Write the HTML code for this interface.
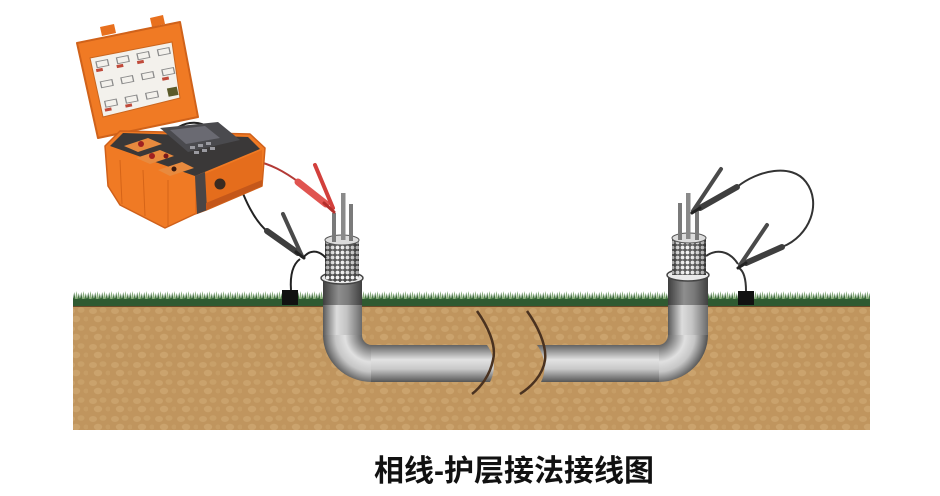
<!DOCTYPE html>
<html><head><meta charset="utf-8">
<style>
html,body{margin:0;padding:0;background:#fff;}
body{width:940px;height:496px;overflow:hidden;}
svg{display:block;}
</style></head>
<body>
<svg width="940" height="496" viewBox="0 0 940 496" xmlns="http://www.w3.org/2000/svg">
<defs>
  <pattern id="soil" width="22" height="18" patternUnits="userSpaceOnUse">
    <rect width="22" height="18" fill="#c0955e"/>
    <ellipse cx="5" cy="5" rx="4" ry="3" fill="#caa26c"/>
    <ellipse cx="15" cy="4" rx="3.5" ry="2.8" fill="#c8a069"/>
    <ellipse cx="10" cy="13" rx="4.2" ry="3.2" fill="#cba36d"/>
    <ellipse cx="20" cy="13" rx="2.5" ry="2.5" fill="#c69d66"/>
  </pattern>
  <pattern id="grass" width="7" height="8" patternUnits="userSpaceOnUse" x="73" y="291">
    <path d="M0,8 L1.2,1 L2.4,8 Z" fill="#3d6b3c"/>
    <path d="M2,8 L3.5,0 L5,8 Z" fill="#86ab79"/>
    <path d="M4.5,8 L5.8,2 L7,8 Z" fill="#4c7a48"/>
  </pattern>
  <pattern id="braid" width="5" height="5" patternUnits="userSpaceOnUse">
    <rect width="5" height="5" fill="#4a4a4a"/>
    <circle cx="2.5" cy="2.5" r="1.9" fill="#f2f2f2"/>
  </pattern>
  <linearGradient id="cylShade" x1="0" x2="1" y1="0" y2="0">
    <stop offset="0" stop-color="#000" stop-opacity="0.35"/>
    <stop offset="0.4" stop-color="#fff" stop-opacity="0.1"/>
    <stop offset="1" stop-color="#000" stop-opacity="0.35"/>
  </linearGradient>
  <linearGradient id="vpipe" x1="0" x2="1" y1="0" y2="0">
    <stop offset="0" stop-color="#5a5a5a"/>
    <stop offset="0.35" stop-color="#dcdcdc"/>
    <stop offset="0.6" stop-color="#c4c4c4"/>
    <stop offset="1" stop-color="#6a6a6a"/>
  </linearGradient>
  <linearGradient id="vpipeTop" x1="0" x2="1" y1="0" y2="0">
    <stop offset="0" stop-color="#3e3e3e"/>
    <stop offset="0.4" stop-color="#8e8e8e"/>
    <stop offset="0.65" stop-color="#7a7a7a"/>
    <stop offset="1" stop-color="#404040"/>
  </linearGradient>
  <linearGradient id="hpipe" x1="0" x2="0" y1="0" y2="1">
    <stop offset="0" stop-color="#626262"/>
    <stop offset="0.4" stop-color="#e2e2e2"/>
    <stop offset="0.65" stop-color="#c8c8c8"/>
    <stop offset="1" stop-color="#565656"/>
  </linearGradient>
  <radialGradient id="cornerL" gradientUnits="userSpaceOnUse" cx="372" cy="335" r="49">
    <stop offset="0.2" stop-color="#626262"/>
    <stop offset="0.55" stop-color="#e0e0e0"/>
    <stop offset="0.75" stop-color="#c6c6c6"/>
    <stop offset="1" stop-color="#585858"/>
  </radialGradient>
  <radialGradient id="cornerR" gradientUnits="userSpaceOnUse" cx="658" cy="335" r="49">
    <stop offset="0.2" stop-color="#626262"/>
    <stop offset="0.55" stop-color="#e0e0e0"/>
    <stop offset="0.75" stop-color="#c6c6c6"/>
    <stop offset="1" stop-color="#585858"/>
  </radialGradient>
</defs>

<!-- ground -->
<rect x="73" y="306" width="797" height="124" fill="url(#soil)"/>
<rect x="73" y="305" width="797" height="2" fill="#6b4a28"/>
<rect x="73" y="298" width="797" height="8" fill="#2f5a31"/>
<rect x="73" y="291" width="797" height="8" fill="url(#grass)"/>

<!-- LEFT PIPE -->
<rect x="323" y="277" width="39" height="60" fill="url(#vpipe)"/>
<rect x="323" y="277" width="39" height="28" fill="url(#vpipeTop)"/>
<path d="M372,335 m-49,0 a49,47 0 0 0 49,47 L372,345 a10,10 0 0 1 -10,-10 Z" fill="url(#cornerL)"/>
<path d="M371,345 L487,345 C495,356 496,370 490,382 L371,382 Z" fill="url(#hpipe)"/>

<!-- RIGHT PIPE -->
<rect x="668" y="275" width="40" height="62" fill="url(#vpipe)"/>
<rect x="668" y="275" width="40" height="30" fill="url(#vpipeTop)"/>
<path d="M658,335 m50,0 a50,47 0 0 1 -50,47 L658,345 a10,10 0 0 0 10,-10 Z" fill="url(#cornerR)"/>
<path d="M659,345 L537,345 C545,356 547,370 541,382 L659,382 Z" fill="url(#hpipe)"/>

<!-- break curves -->
<path d="M477,311 C487,325 497,345 493,360 C490,375 481,387 472,394" fill="none" stroke="#4a3220" stroke-width="2.5"/>
<path d="M527,311 C537,325 547,345 545,360 C543,375 531,387 520,394" fill="none" stroke="#4a3220" stroke-width="2.5"/>

<!-- LEFT cable head -->
<ellipse cx="342" cy="278" rx="21" ry="6" fill="#e8e8e8" stroke="#444" stroke-width="1.5"/>
<rect x="325" y="240" width="34" height="38" fill="url(#braid)"/>
<rect x="325" y="240" width="34" height="38" fill="url(#cylShade)"/>
<ellipse cx="342" cy="278" rx="17" ry="4" fill="url(#braid)"/>
<ellipse cx="342" cy="240" rx="17" ry="5" fill="#dcdcdc" stroke="#555" stroke-width="1"/>
<rect x="332" y="213" width="4" height="29" fill="#7a7a7a"/>
<rect x="341" y="193" width="4.5" height="47" fill="#8a8a8a"/>
<rect x="349" y="204" width="4" height="37" fill="#7a7a7a"/>

<!-- RIGHT cable head -->
<ellipse cx="688" cy="275" rx="21" ry="6" fill="#e8e8e8" stroke="#444" stroke-width="1.5"/>
<rect x="672" y="238" width="34" height="37" fill="url(#braid)"/>
<rect x="672" y="238" width="34" height="37" fill="url(#cylShade)"/>
<ellipse cx="689" cy="238" rx="17" ry="5" fill="#dcdcdc" stroke="#555" stroke-width="1"/>
<rect x="678" y="203" width="4" height="37" fill="#7a7a7a"/>
<rect x="686" y="193" width="4.5" height="46" fill="#8a8a8a"/>
<rect x="695" y="205" width="4" height="35" fill="#7a7a7a"/>

<!-- ground stakes -->
<rect x="282" y="290" width="16" height="15" fill="#111"/>
<rect x="738" y="291" width="16" height="14" fill="#111"/>

<!-- LEFT wires & clamps -->
<path d="M168,138 C180,118 208,116 222,142 C234,164 240,192 252,212 C257,221 262,227 268,232" fill="none" stroke="#222" stroke-width="2"/>
<path d="M250,160 C270,163 285,172 300,183" fill="none" stroke="#b33a36" stroke-width="2"/>
<path d="M326,258 C318,249 309,250 303,258" fill="none" stroke="#222" stroke-width="2"/>
<path d="M300,259 C292,265 290,276 291,290" fill="none" stroke="#222" stroke-width="2"/>
<!-- red clamp -->
<line x1="298" y1="182" x2="326" y2="204" stroke="#e05450" stroke-width="7" stroke-linecap="round"/>
<line x1="315" y1="165" x2="333" y2="208" stroke="#d2403c" stroke-width="4" stroke-linecap="round"/>
<line x1="324" y1="203" x2="334" y2="212" stroke="#b32e2a" stroke-width="3" stroke-linecap="round"/>
<!-- black clamp -->
<line x1="267" y1="231" x2="298" y2="253" stroke="#3e3e3e" stroke-width="6" stroke-linecap="round"/>
<line x1="283" y1="214" x2="302" y2="256" stroke="#4a4a4a" stroke-width="4" stroke-linecap="round"/>
<line x1="296" y1="252" x2="304" y2="258" stroke="#222" stroke-width="3" stroke-linecap="round"/>

<!-- RIGHT wires & clamps -->
<path d="M737,187 C758,170 792,163 806,182 C822,203 810,236 782,247" fill="none" stroke="#333" stroke-width="2"/>
<path d="M706,256 C716,249 729,250 738,264" fill="none" stroke="#333" stroke-width="2"/>
<path d="M739,268 C745,272 746,282 746,291" fill="none" stroke="#333" stroke-width="2"/>
<line x1="737" y1="187" x2="700" y2="208" stroke="#3e3e3e" stroke-width="6" stroke-linecap="round"/>
<line x1="721" y1="169" x2="693" y2="211" stroke="#4a4a4a" stroke-width="4" stroke-linecap="round"/>
<line x1="700" y1="208" x2="692" y2="213" stroke="#222" stroke-width="3" stroke-linecap="round"/>
<line x1="782" y1="247" x2="746" y2="263" stroke="#3e3e3e" stroke-width="6" stroke-linecap="round"/>
<line x1="767" y1="225" x2="740" y2="265" stroke="#4a4a4a" stroke-width="4" stroke-linecap="round"/>
<line x1="746" y1="263" x2="738" y2="268" stroke="#222" stroke-width="3" stroke-linecap="round"/>

<!-- INSTRUMENT -->
<!-- lid -->
<polygon points="100,27 114,24 116,33 102,36" fill="#e8701e"/>
<polygon points="150,18 163,15 165,24 152,27" fill="#e8701e"/>
<polygon points="77,43 180,22 198,117 98,138" fill="#f07a24" stroke="#d0621a" stroke-width="2" stroke-linejoin="round"/>
<polygon points="90,58 172,42 180,98 103,117" fill="#f3f1ec" stroke="#c9651e" stroke-width="1"/>
<g transform="matrix(0.82,-0.16,0.13,0.59,90,58)">
  <g fill="none" stroke="#8a8a8a" stroke-width="1.5">
    <rect x="6" y="8" width="14" height="10"/><rect x="31" y="8" width="14" height="10"/>
    <rect x="56" y="8" width="14" height="10"/><rect x="81" y="8" width="14" height="10"/>
    <rect x="6" y="42" width="14" height="10"/><rect x="31" y="42" width="14" height="10"/>
    <rect x="56" y="42" width="14" height="10"/><rect x="81" y="42" width="14" height="10"/>
    <rect x="6" y="75" width="14" height="10"/><rect x="31" y="75" width="14" height="10"/>
    <rect x="56" y="75" width="14" height="10"/>
  </g>
  <g fill="#c04a3a">
    <rect x="4" y="20" width="8" height="5"/><rect x="29" y="20" width="8" height="5"/>
    <rect x="54" y="20" width="8" height="5"/><rect x="4" y="87" width="8" height="5"/>
    <rect x="29" y="87" width="8" height="5"/><rect x="79" y="55" width="8" height="5"/>
  </g>
  <rect x="82" y="74" width="12" height="14" fill="#5a5a2a"/>
</g>
<!-- base body -->
<polygon points="105,146 120,131 250,134 265,148 262,186 206,210 195,214 165,228 120,205 108,186" fill="#f07a24" stroke="#cf601a" stroke-width="1.5" stroke-linejoin="round"/>
<polygon points="195,178 262,150 262,186 206,210 195,214" fill="#e56d1c"/>
<!-- top dark panel -->
<polygon points="110,146 123,133 248,137 260,149 195,176" fill="#3a3838"/>
<!-- sockets -->
<polygon points="124,146 148,138 162,144 138,152" fill="#e88a3e"/>
<polygon points="136,158 160,150 174,156 150,164" fill="#e88a3e"/>
<polygon points="158,170 182,162 194,168 170,176" fill="#e88a3e"/>
<circle cx="141" cy="144" r="3" fill="#a02020"/>
<circle cx="152" cy="156" r="3" fill="#a02020"/>
<circle cx="166" cy="156" r="2.5" fill="#7a1a1a"/>
<circle cx="174" cy="169" r="2.5" fill="#3a1a10"/>
<!-- display & keypad -->
<polygon points="160,128 218,122 240,140 188,152" fill="#4a4a4e"/>
<polygon points="170,130 205,126 220,138 186,144" fill="#6a6a72"/>
<g fill="#9a9aa0">
  <rect x="190" y="146" width="5" height="3"/><rect x="198" y="144" width="5" height="3"/>
  <rect x="206" y="142" width="5" height="3"/><rect x="194" y="151" width="5" height="3"/>
  <rect x="202" y="149" width="5" height="3"/><rect x="210" y="147" width="5" height="3"/>
</g>
<!-- strap and front details -->
<polygon points="195,176 205,172 207,210 197,214" fill="#4a4545"/>
<line x1="120" y1="160" x2="122" y2="204" stroke="#d56418" stroke-width="1"/>
<line x1="143" y1="170" x2="145" y2="216" stroke="#d56418" stroke-width="1"/>
<line x1="168" y1="180" x2="168" y2="226" stroke="#d56418" stroke-width="1"/>
<circle cx="220" cy="184" r="5.5" fill="#3a2a20"/>
<polygon points="206,203 262,180 262,186 206,210" fill="#c4571a"/>

<!-- caption -->
<text x="514" y="481" text-anchor="middle" font-family="'Liberation Sans','Noto Sans CJK SC',sans-serif" font-size="30" font-weight="bold" fill="#111">相线-护层接法接线图</text>
</svg>
</body></html>
